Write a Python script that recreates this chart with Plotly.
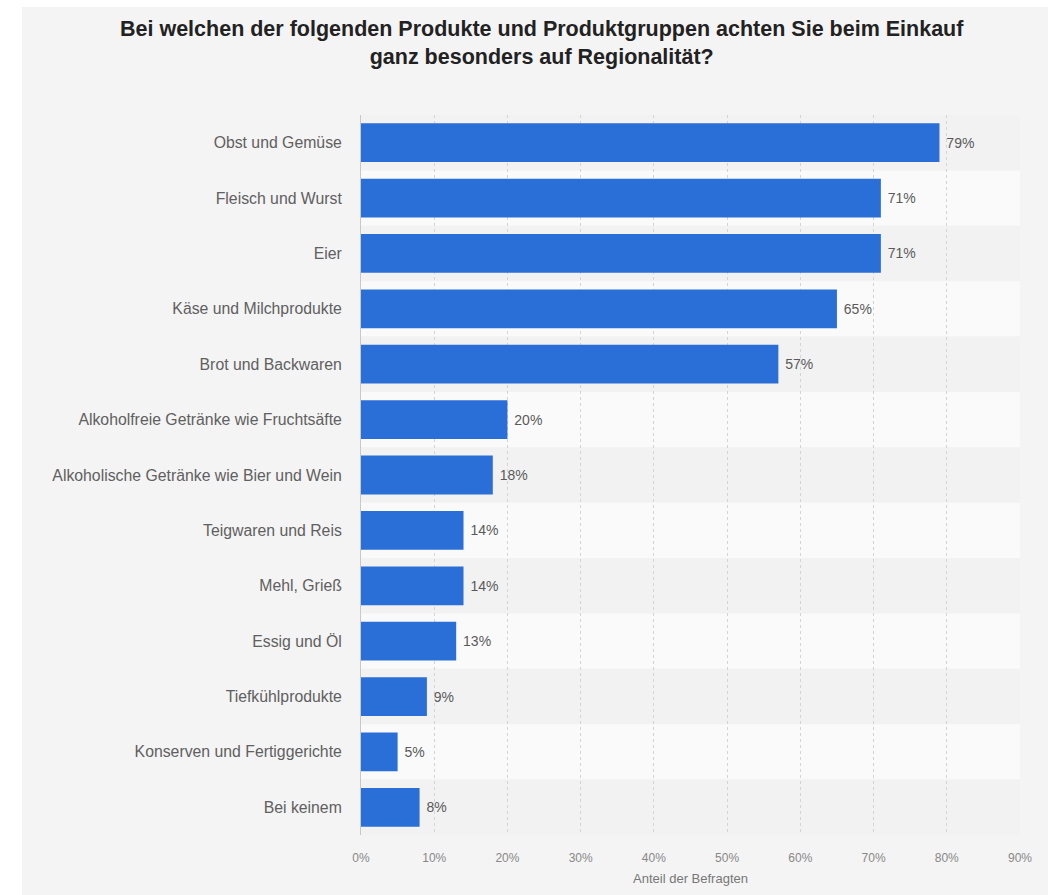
import plotly.graph_objects as go

categories = [
    "Obst und Gemüse",
    "Fleisch und Wurst",
    "Eier",
    "Käse und Milchprodukte",
    "Brot und Backwaren",
    "Alkoholfreie Getränke wie Fruchtsäfte",
    "Alkoholische Getränke wie Bier und Wein",
    "Teigwaren und Reis",
    "Mehl, Grieß",
    "Essig und Öl",
    "Tiefkühlprodukte",
    "Konserven und Fertiggerichte",
    "Bei keinem",
]
values = [79, 71, 71, 65, 57, 20, 18, 14, 14, 13, 9, 5, 8]
tick_vals = [0, 10, 20, 30, 40, 50, 60, 70, 80, 90]
tick_text = [f"{v}%" for v in tick_vals]

W, H = 1048, 895
L, R, T, B = 361, 28, 115, 60
pw = W - L - R
ph = H - T - B

fig = go.Figure()
fig.add_trace(go.Bar(
    y=categories, x=values, orientation="h",
    marker=dict(color="#2a6ed8", line=dict(width=0)),
    text=[f" {v}%" for v in values], textposition="outside",
    textfont=dict(family="Liberation Sans, Arial", size=14, color="#5a5a5a"),
    cliponaxis=False,
    width=0.7,
))

shapes = []
for i, c in enumerate(categories):
    shapes.append(dict(type="rect", xref="paper", yref="y",
                       x0=0, x1=1, y0=i - 0.5, y1=i + 0.5,
                       fillcolor="#f2f2f2" if i % 2 == 0 else "#fafafa",
                       line=dict(width=0), layer="below"))
shapes.append(dict(type="rect", xref="paper", yref="paper",
                   x0=-L / pw, x1=(22 - L) / pw, y0=-B / ph, y1=(ph + T) / ph,
                   fillcolor="white", line=dict(width=0), layer="below"))
shapes.append(dict(type="rect", xref="paper", yref="paper",
                   x0=-L / pw, x1=(W - L) / pw, y0=(ph + T - 7) / ph, y1=(ph + T) / ph,
                   fillcolor="white", line=dict(width=0), layer="below"))

fig.add_annotation(
    text="<b>Bei welchen der folgenden Produkte und Produktgruppen achten Sie beim Einkauf<br>ganz besonders auf Regionalität?</b>",
    xref="paper", yref="paper",
    x=(542 - L) / pw, xanchor="center",
    y=(ph + T - 15) / ph, yanchor="top",
    showarrow=False, align="center",
    font=dict(family="Liberation Sans, Arial", size=21.5, color="#222222"),
)

fig.update_layout(
    width=W, height=H,
    margin=dict(l=L, r=R, t=T, b=B),
    paper_bgcolor="#f4f4f4",
    plot_bgcolor="#f4f4f4",
    shapes=shapes,
    showlegend=False,
    bargap=0.3,
    font=dict(family="Liberation Sans, Arial", color="#555555"),
    xaxis=dict(
        range=[0, 90], tickvals=tick_vals, ticktext=tick_text,
        showgrid=True, gridcolor="#d4d4d4", griddash="dot", gridwidth=1,
        zeroline=False, showline=False,
        tickfont=dict(size=12, color="#888888"),
        title=dict(text="Anteil der Befragten", font=dict(size=13, color="#777777"), standoff=9),
        ticks="", ticklabelstandoff=14,
    ),
    yaxis=dict(
        categoryorder="array", categoryarray=categories, autorange="reversed",
        showline=True, linecolor="#c8c8c8", linewidth=1,
        showgrid=False, zeroline=False,
        tickfont=dict(size=15.8, color="#606060"),
        ticks="", ticklabelstandoff=15,
    ),
)

fig.write_html("out.html")
